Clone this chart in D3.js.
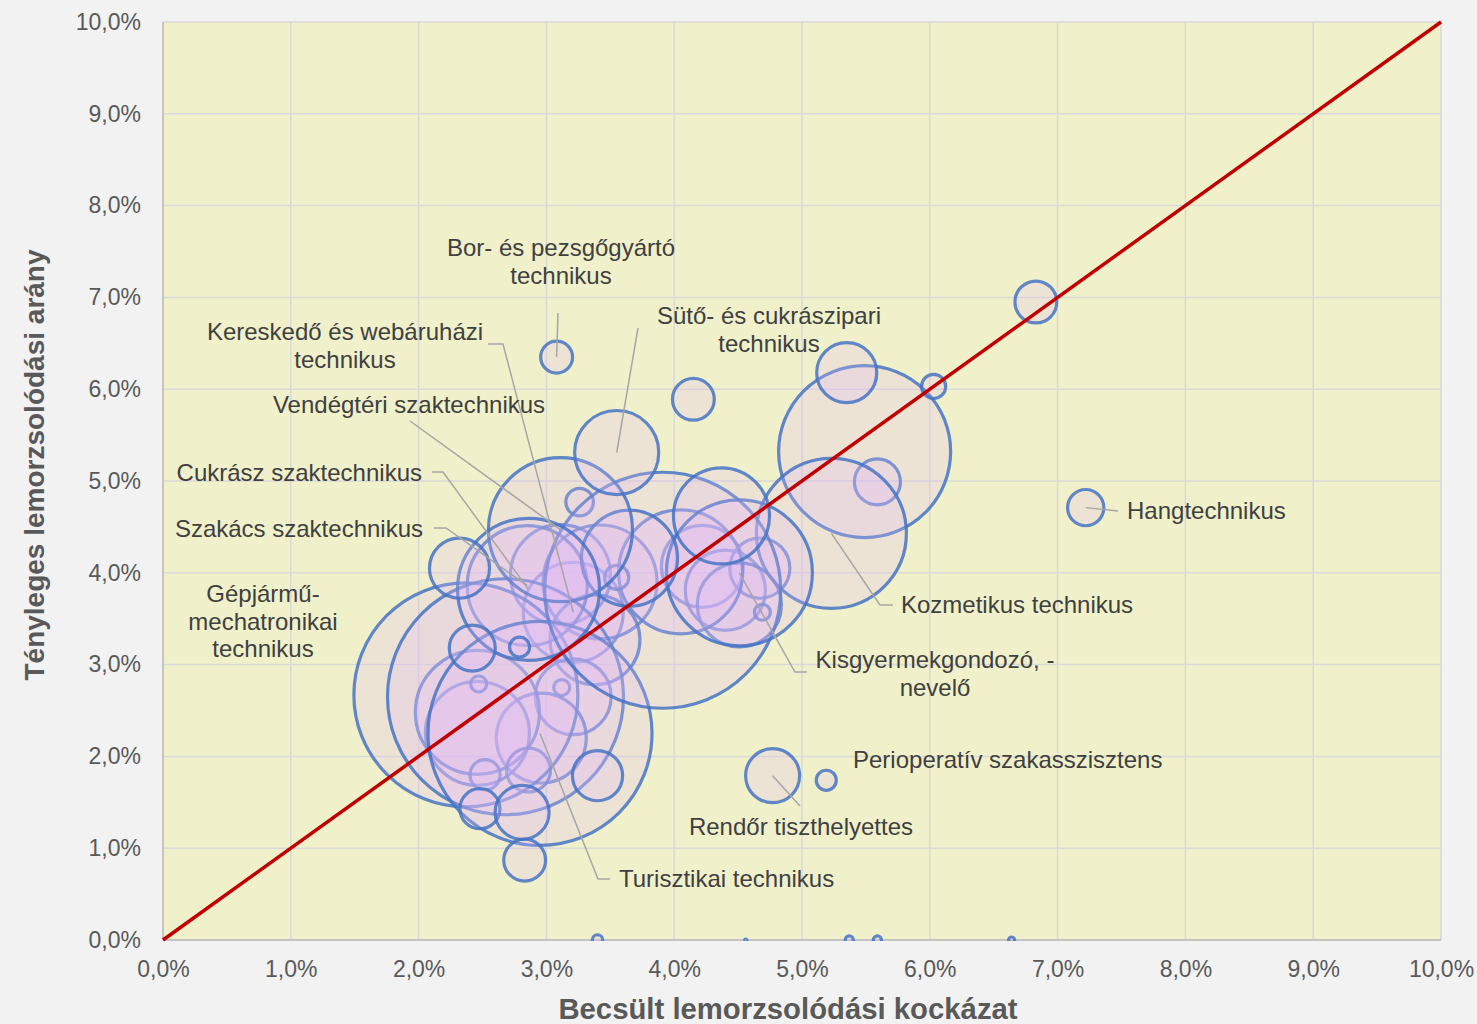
<!DOCTYPE html>
<html><head><meta charset="utf-8">
<script src="https://cdn.jsdelivr.net/npm/d3@7"></script>
<style>
html,body{margin:0;padding:0;background:#f2f2f2;}
svg{display:block;font-family:"Liberation Sans",Arial,Helvetica,sans-serif;}
</style></head><body>
<svg id="chart" width="1477" height="1024"></svg>
<script>
// ---------------- DATA ----------------
const names = [
  "Kereskedő és webáruházi\ntechnikus","","","","","","","","","","","","","","","","","",
  "Szakács szaktechnikus","","","",
  "","Kozmetikus technikus","Gépjármű-\nmechatronikai\ntechnikus","","Turisztikai technikus","",
  "Kisgyermekgondozó, -\nnevelő","","","Vendégtéri szaktechnikus","Cukrász szaktechnikus",
  "","Bor- és pezsgőgyártó\ntechnikus","","","","Sütő- és cukrászipari\ntechnikus","Hangtechnikus",
  "Rendőr tiszthelyettes","Perioperatív szakasszisztens","","","","","","","",
  "","","","",""
];
// estimated dropout risk (%)
const estimatedRisk = [
  3.21,3.11,3.42,3.38,3.21,3.12,2.96,2.46,2.46,2.47,2.86,2.52,4.22,4.40,4.67,4.51,4.69,4.05,
  2.85,5.59,3.26,3.55,
  5.49,5.23,2.37,2.68,2.95,3.91,4.51,4.37,3.65,3.11,2.86,
  6.83,3.08,4.15,5.35,6.03,3.55,7.22,4.77,5.19,2.32,2.83,2.48,2.81,3.40,2.42,2.79,
  3.40,4.56,5.37,5.59,6.64
];
// actual dropout rate (%)
const actualRate = [
  3.57,3.98,3.90,3.27,2.65,2.75,2.20,2.25,2.48,2.79,1.85,1.80,4.07,3.81,4.05,3.65,3.57,4.01,
  3.86,4.99,4.77,3.95,
  5.32,4.43,2.67,2.65,2.25,3.81,4.00,4.62,4.16,4.47,3.82,
  6.95,6.35,5.89,6.18,6.03,5.31,4.71,1.79,1.74,4.05,0.87,1.43,1.39,1.79,3.18,3.19,
  0,0,0,0,0
];
// bubble size (number of students)
const students = [
  274,274,356,222,158,7,222,297,422,7,53,25,184,176,99,194,7,422,
  395,58,21,16,
  812,617,1377,1528,1377,1528,585,253,253,569,553,
  48,28,48,99,16,194,36,80,11,99,48,44,80,69,58,11,
  3.0,0.1,1.8,1.8,1.0
];
const xTicks = [0,1,2,3,4,5,6,7,8,9,10];
const yTicks = [0,1,2,3,4,5,6,7,8,9,10];
const xTitle = "Becsült lemorzsolódási kockázat";
const yTitle = "Tényleges lemorzsolódási arány";

// ---------------- LAYOUT (label placement, pixels) ----------------
const labelLayout = {
  "Kereskedő és webáruházi\ntechnikus": {x:345, y:340, anchor:"middle", leader:[[488,344],[503,344]]},
  "Szakács szaktechnikus": {x:423, y:537, anchor:"end", leader:[[434,528],[446,528]]},
  "Kozmetikus technikus": {x:901, y:613, anchor:"start", leader:[[893,605],[880,605]]},
  "Gépjármű-\nmechatronikai\ntechnikus": {x:263, y:602, anchor:"middle", leader:null},
  "Turisztikai technikus": {x:619, y:887, anchor:"start", leader:[[610,879],[598,879]]},
  "Kisgyermekgondozó, -\nnevelő": {x:935, y:668, anchor:"middle", leader:[[807,672],[795,672]]},
  "Vendégtéri szaktechnikus": {x:409, y:413, anchor:"middle", leader:[[410,421]]},
  "Cukrász szaktechnikus": {x:422, y:481, anchor:"end", leader:[[432,472],[443,472]]},
  "Bor- és pezsgőgyártó\ntechnikus": {x:561, y:256, anchor:"middle", leader:[[558,313]]},
  "Sütő- és cukrászipari\ntechnikus": {x:769, y:324, anchor:"middle", leader:[[638,328]]},
  "Hangtechnikus": {x:1127, y:519, anchor:"start", leader:[[1118,511]]},
  "Rendőr tiszthelyettes": {x:801, y:835, anchor:"middle", leader:[[800,806]]},
  "Perioperatív szakasszisztens": {x:853, y:768, anchor:"start", leader:null}
};

// ---------------- CHART ----------------
const W = 1477, H = 1024;
const plot = {left:163, right:1441, top:22, bottom:940};
const svg = d3.select("#chart");
svg.append("rect").attr("width", W).attr("height", H).attr("fill", "#f2f2f2");

const x = d3.scaleLinear().domain([0, 10]).range([plot.left, plot.right]);
const y = d3.scaleLinear().domain([0, 10]).range([plot.bottom, plot.top]);
const r = d3.scaleSqrt().domain([0, 2000]).range([0, 135]);
const loc = d3.formatLocale({decimal:",", thousands:" ", grouping:[3], currency:["", " Ft"]});
const f1 = loc.format(".1f");
const fmt = v => f1(v) + "%";

svg.append("rect")
  .attr("x", plot.left).attr("y", plot.top)
  .attr("width", plot.right - plot.left).attr("height", plot.bottom - plot.top)
  .attr("fill", "#f0f0ca");

// gridlines
const grid = svg.append("g");
grid.selectAll("line.gx").data(xTicks.slice(1)).join("line").attr("class","gx")
  .attr("x1", d => x(d)).attr("x2", d => x(d))
  .attr("y1", plot.top).attr("y2", plot.bottom)
  .attr("stroke", "#d9d9d9").attr("stroke-width", 1.5);
grid.selectAll("line.gy").data(yTicks.slice(1)).join("line").attr("class","gy")
  .attr("x1", plot.left).attr("x2", plot.right)
  .attr("y1", d => y(d)).attr("y2", d => y(d))
  .attr("stroke", "#d9d9d9").attr("stroke-width", 1.5);

// axis lines
svg.append("line").attr("x1", plot.left).attr("x2", plot.left).attr("y1", plot.top).attr("y2", plot.bottom)
  .attr("stroke", "#c4c4c4").attr("stroke-width", 2);
svg.append("line").attr("x1", plot.left).attr("x2", plot.right).attr("y1", plot.bottom).attr("y2", plot.bottom)
  .attr("stroke", "#c4c4c4").attr("stroke-width", 2);

// clip
svg.append("defs").append("clipPath").attr("id", "plotClip")
  .append("rect").attr("x", plot.left).attr("y", plot.top)
  .attr("width", plot.right - plot.left).attr("height", plot.bottom - plot.top + 1);

const data = names.map((n, i) => ({name:n, x:estimatedRisk[i], y:actualRate[i], s:students[i]}));

const bubbles = svg.append("g").attr("clip-path", "url(#plotClip)");
bubbles.selectAll("circle").data(data).join("circle")
  .attr("cx", d => x(d.x)).attr("cy", d => y(d.y)).attr("r", d => r(d.s))
  .attr("fill", "rgb(226,186,245)").attr("fill-opacity", 0.23)
  .attr("stroke", "#4472c4").attr("stroke-opacity", 0.84).attr("stroke-width", 3.2);

// diagonal reference line
svg.append("line")
  .attr("x1", x(0)).attr("y1", y(0)).attr("x2", x(10)).attr("y2", y(10))
  .attr("stroke", "#c00000").attr("stroke-width", 3.5);

// axes
const xAxis = svg.append("g").attr("transform", `translate(0,${plot.bottom})`)
  .call(d3.axisBottom(x).tickValues(xTicks).tickFormat(fmt).tickSize(0).tickPadding(21));
const yAxis = svg.append("g").attr("transform", `translate(${plot.left},0)`)
  .call(d3.axisLeft(y).tickValues(yTicks).tickFormat(fmt).tickSize(0).tickPadding(22));
[xAxis, yAxis].forEach(g => {
  g.select(".domain").remove();
  g.selectAll("text").attr("fill", "#595959").style("font-size", "23px")
    .style("font-family", '"Liberation Sans",Arial,sans-serif');
});

// axis titles
svg.append("text").attr("x", 788).attr("y", 1019).attr("text-anchor", "middle")
  .attr("fill", "#595959").style("font-size", "29.3px").style("font-weight", "bold").text(xTitle);
svg.append("text").attr("transform", "translate(44,465) rotate(-90)").attr("text-anchor", "middle")
  .attr("fill", "#595959").style("font-size", "28px").style("font-weight", "bold").text(yTitle);

// leader lines and labels
const labelled = data.filter(d => d.name && labelLayout[d.name]);
const lg = svg.append("g");
labelled.forEach(d => {
  const L = labelLayout[d.name];
  if (L.leader) {
    const pts = L.leader.concat([[x(d.x), y(d.y)]]);
    lg.append("path").attr("d", d3.line()(pts))
      .attr("fill", "none").attr("stroke", "#a6a6a6").attr("stroke-width", 1.5);
  }
});
labelled.forEach(d => {
  const L = labelLayout[d.name];
  const t = lg.append("text").attr("x", L.x).attr("y", L.y).attr("text-anchor", L.anchor)
    .attr("fill", "#404040").style("font-size", "24px");
  d.name.split("\n").forEach((line, k) => {
    t.append("tspan").attr("x", L.x).attr("dy", k === 0 ? 0 : 27.5).text(line);
  });
});
</script>
</body></html>
